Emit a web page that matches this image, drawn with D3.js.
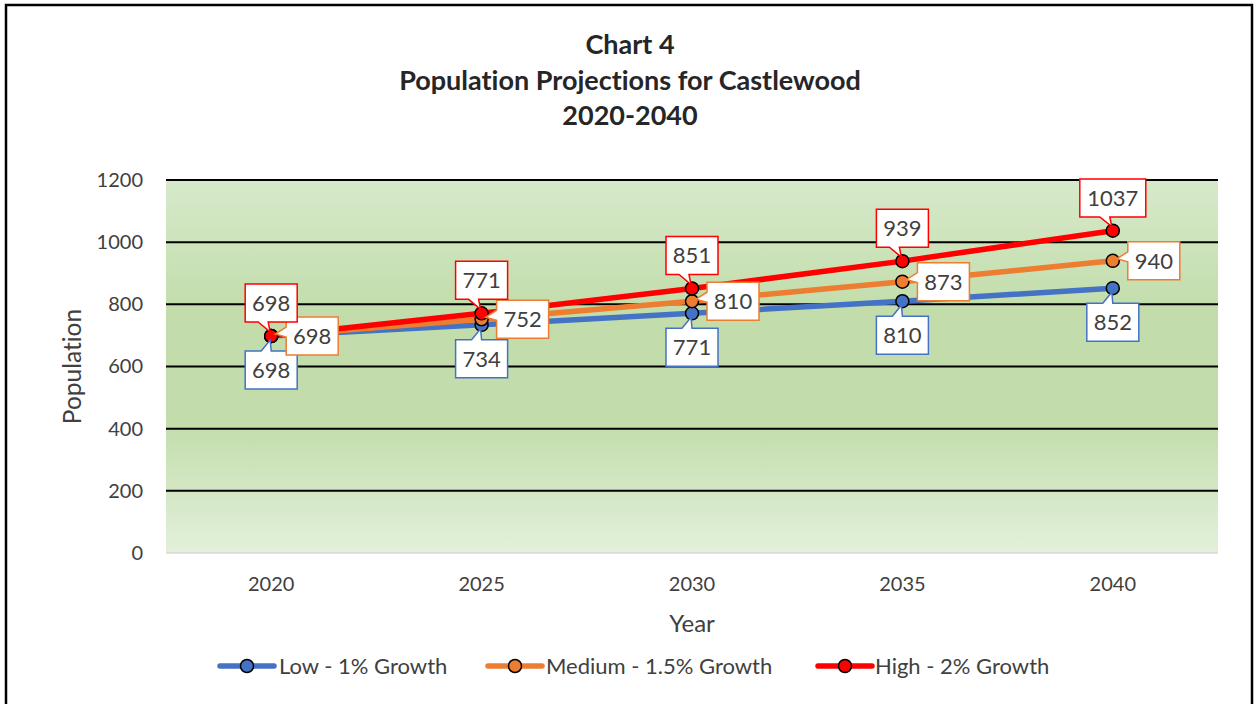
<!DOCTYPE html>
<html>
<head>
<meta charset="utf-8">
<script src="https://cdn.jsdelivr.net/npm/d3@7"></script>
<style>
  html, body { margin: 0; padding: 0; background: #fff; }
  svg { display: block; }
  text { font-family: Lato, "Open Sans", sans-serif; font-variant-ligatures: none; font-feature-settings: "liga" 0, "dlig" 0; }
</style>
</head>
<body>
<svg id="chart" width="1254" height="704"></svg>
<script>
// Population projections for Castlewood, 2020-2040
const years = ["2020", "2025", "2030", "2035", "2040"];
const lowGrowth = [698, 734, 771, 810, 852];
const mediumGrowth = [698, 752, 810, 873, 940];
const highGrowth = [698, 771, 851, 939, 1037];
const yTicks = [0, 200, 400, 600, 800, 1000, 1200];
const seriesNames = ["Low - 1% Growth", "Medium - 1.5% Growth", "High - 2% Growth"];
const titleLines = ["Chart 4", "Population Projections for Castlewood", "2020-2040"];

const colors = ["#4472C4", "#ED7D31", "#FF0000"];
const labelSides = ["below", "right", "above"];

const series = [lowGrowth, mediumGrowth, highGrowth].map((vals, i) => ({
  name: seriesNames[i],
  color: colors[i],
  side: labelSides[i],
  values: vals.map((v, j) => ({ year: years[j], value: v }))
}));

const svg = d3.select("#chart");
const plot = { left: 166, right: 1218, top: 180, bottom: 553 };
const textColor = "#404040";

// chart frame
svg.append("rect").attr("x", 6).attr("y", 5).attr("width", 1246).attr("height", 720)
  .attr("fill", "#fff").attr("stroke", "#000").attr("stroke-width", 2.5);

// plot-area gradient
const defs = svg.append("defs");
const grad = defs.append("linearGradient").attr("id", "plotFill")
  .attr("x1", 0).attr("y1", 0).attr("x2", 0).attr("y2", 1);
[["0%", "#d7e9cb"], ["35%", "#c2ddab"], ["65%", "#c2ddab"], ["100%", "#e3f0db"]]
  .forEach(([o, c]) => grad.append("stop").attr("offset", o).attr("stop-color", c));

const x = d3.scaleBand().domain(years).range([plot.left, plot.right]);
const y = d3.scaleLinear().domain([0, 1200]).range([plot.bottom, plot.top]);
const cx = d => x(d.year) + x.bandwidth() / 2;

svg.append("rect").attr("x", plot.left).attr("y", plot.top)
  .attr("width", plot.right - plot.left).attr("height", plot.bottom - plot.top)
  .attr("fill", "url(#plotFill)");

// gridlines
svg.append("g").selectAll("line").data(yTicks).join("line")
  .attr("x1", plot.left).attr("x2", plot.right)
  .attr("y1", d => y(d)).attr("y2", d => y(d))
  .attr("stroke", d => d === 0 ? "#d9d9d9" : "#000")
  .attr("stroke-width", d => d === 0 ? 1.5 : 2);

// y axis tick labels
const yAxis = d3.axisLeft(y).tickValues(yTicks).tickFormat(d3.format("d"))
  .tickSize(0).tickPadding(0);
const gy = svg.append("g").attr("transform", `translate(${143},0)`).call(yAxis);
gy.select(".domain").remove();
gy.selectAll("text").attr("font-size", 20).attr("fill", textColor)
  .attr("font-family", "Lato, sans-serif");

// x axis tick labels
const xAxis = d3.axisBottom(x).tickSize(0).tickPadding(0);
const gx = svg.append("g").attr("transform", `translate(0,${577})`).call(xAxis);
gx.select(".domain").remove();
gx.selectAll("text").attr("font-size", 20).attr("fill", textColor)
  .attr("font-family", "Lato, sans-serif");

// axis titles
svg.append("text").attr("x", 692).attr("y", 632).attr("text-anchor", "middle")
  .attr("font-size", 24).attr("fill", textColor).text("Year");
svg.append("text").attr("transform", `translate(81,${(plot.top + plot.bottom) / 2}) rotate(-90)`)
  .attr("text-anchor", "middle").attr("font-size", 24.5).attr("fill", textColor).text("Population");

// title
titleLines.forEach((t, i) => {
  svg.append("text").attr("x", 630).attr("y", 54 + i * 35.5).attr("text-anchor", "middle")
    .attr("font-size", 27).attr("font-weight", "bold").attr("fill", "#262626").text(t);
});

// lines and markers
const line = d3.line().x(cx).y(d => y(d.value));
series.forEach(s => {
  svg.append("path").datum(s.values).attr("d", line)
    .attr("fill", "none").attr("stroke", s.color).attr("stroke-width", 5.5)
    .attr("stroke-linecap", "round");
});
series.forEach(s => {
  svg.append("g").selectAll("circle").data(s.values).join("circle")
    .attr("cx", cx).attr("cy", d => y(d.value)).attr("r", 6.5)
    .attr("fill", s.color).attr("stroke", "#000").attr("stroke-width", 1.5);
});

// callout data labels
const gap = 14;
function calloutPath(px, py, side, w, h) {
  if (side === "above") {
    const bx = px - w / 2, by = Math.max(plot.top - 1, py - gap - h);
    const bb = by + h;
    return `M${bx},${by}H${bx + w}V${bb}H${px - 3}L${px - 1},${py - 4}L${px - 13},${bb}H${bx}Z`;
  }
  if (side === "below") {
    const bx = px - w / 2, by = py + gap + 1;
    return `M${bx},${by}H${px - 10}L${px - 1},${py + 4}L${px},${by}H${bx + w}V${by + h}H${bx}Z`;
  }
  const bx = px + gap + 1, by = py - h / 2;
  return `M${bx},${by}H${bx + w}V${by + h}H${bx}V${py + 1}L${px + 4},${py - 2}L${bx},${py - 9}Z`;
}
function boxCenter(px, py, side, w, h) {
  if (side === "above") {
    const by = Math.max(plot.top - 1, py - gap - h);
    return [px, by + h / 2];
  }
  if (side === "below") return [px, py + gap + 1 + h / 2];
  return [px + gap + 1 + w / 2, py];
}

series.forEach(s => {
  s.values.forEach(d => {
    const label = String(d.value);
    const w = label.length > 3 ? 66 : 52, h = 38;
    const px = cx(d), py = y(d.value);
    svg.append("path").attr("d", calloutPath(px, py, s.side, w, h))
      .attr("fill", "#fff").attr("stroke", s.color).attr("stroke-width", 1.5)
      .attr("stroke-linejoin", "miter");
    const [tx, ty] = boxCenter(px, py, s.side, w, h);
    svg.append("text").attr("x", tx).attr("y", ty).attr("dy", "0.36em")
      .attr("text-anchor", "middle").attr("font-size", 22).attr("fill", textColor)
      .text(label);
  });
});

// legend
const legendItems = [
  { x: 220, textX: 279 },
  { x: 488, textX: 546 },
  { x: 818, textX: 875 }
];
const ly = 666;
series.forEach((s, i) => {
  const it = legendItems[i];
  svg.append("line").attr("x1", it.x).attr("x2", it.x + 54).attr("y1", ly).attr("y2", ly)
    .attr("stroke", s.color).attr("stroke-width", 5.5).attr("stroke-linecap", "round");
  svg.append("circle").attr("cx", it.x + 27).attr("cy", ly).attr("r", 6.5)
    .attr("fill", s.color).attr("stroke", "#000").attr("stroke-width", 1.5);
  svg.append("text").attr("x", it.textX).attr("y", ly).attr("dy", "0.36em")
    .attr("font-size", 22).attr("fill", textColor).text(s.name);
});
</script>
</body>
</html>
